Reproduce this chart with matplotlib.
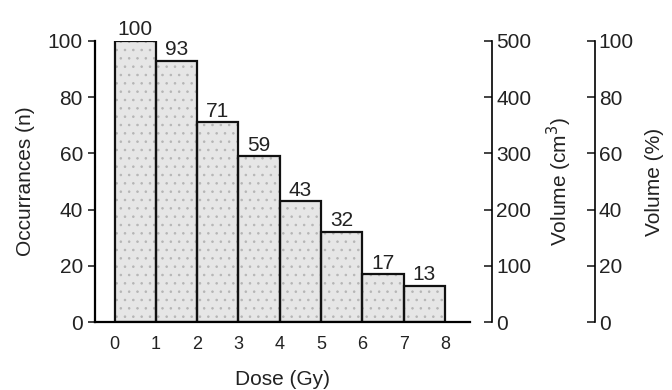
import matplotlib.pyplot as plt
import numpy as np

# dose bins (Gy), bar heights
dose_edges = [0, 1, 2, 3, 4, 5, 6, 7]
occurrences = [100, 93, 71, 59, 43, 32, 17, 13]
x_ticks = [0, 1, 2, 3, 4, 5, 6, 7, 8]
left_ticks = [0, 20, 40, 60, 80, 100]
vol_cm3_ticks = [0, 100, 200, 300, 400, 500]
vol_pct_ticks = [0, 20, 40, 60, 80, 100]

plt.rcParams['font.family'] = ['Liberation Sans', 'DejaVu Sans']
plt.rcParams['hatch.linewidth'] = 0.6
txt = '#222222'

fig = plt.figure(figsize=(6.72, 3.9), dpi=100)
ax = fig.add_axes([0.141, 0.174, 0.558, 0.721])

# stippled fill, then the black outlines
ax.bar(dose_edges, occurrences, width=1.0, align='edge',
       facecolor='#e6e6e6', edgecolor='#b5b5b5', hatch='..', linewidth=0)
ax.bar(dose_edges, occurrences, width=1.0, align='edge',
       facecolor='none', edgecolor='#111111', linewidth=1.6)
for x, v in zip(dose_edges, occurrences):
    ax.text(x + 0.5, v + 0.6, str(v), ha='center', va='bottom', fontsize=15, color=txt)

ax.set_xlim(-0.48, 8.6)
ax.set_ylim(0, 100)
ax.set_xticks(x_ticks)
ax.set_yticks(left_ticks)
ax.tick_params(axis='x', length=0, pad=10, labelsize=13, colors=txt)
ax.tick_params(axis='y', length=5, width=1.2, labelsize=15, colors=txt)
ax.spines['top'].set_visible(False)
ax.spines['right'].set_visible(False)
ax.spines['left'].set_linewidth(1.6)
ax.spines['bottom'].set_linewidth(1.6)
ax.set_xlabel('Dose (Gy)', fontsize=15, color=txt, labelpad=12)
ax.set_ylabel('Occurrances (n)', fontsize=15, color=txt, labelpad=9)

ax2 = ax.twinx()
ax2.set_ylim(0, 500)
ax2.set_yticks(vol_cm3_ticks)
ax2.spines['right'].set_position(('axes', 1.059))
for s in ['top', 'left', 'bottom']:
    ax2.spines[s].set_visible(False)
ax2.spines['right'].set_linewidth(1.2)
ax2.tick_params(axis='y', direction='in', length=6, width=1.2, labelsize=15, colors=txt, pad=3)
ax2.set_ylabel('Volume (cm$^3$)', fontsize=15, color=txt, labelpad=10)

ax3 = ax.twinx()
ax3.set_ylim(0, 100)
ax3.set_yticks(vol_pct_ticks)
ax3.spines['right'].set_position(('axes', 1.333))
for s in ['top', 'left', 'bottom']:
    ax3.spines[s].set_visible(False)
ax3.spines['right'].set_linewidth(1.2)
ax3.tick_params(axis='y', direction='in', length=6, width=1.2, labelsize=15, colors=txt, pad=3)
ax3.set_ylabel('Volume (%)', fontsize=15, color=txt, labelpad=8)

fig.savefig('out.png', dpi=100)
